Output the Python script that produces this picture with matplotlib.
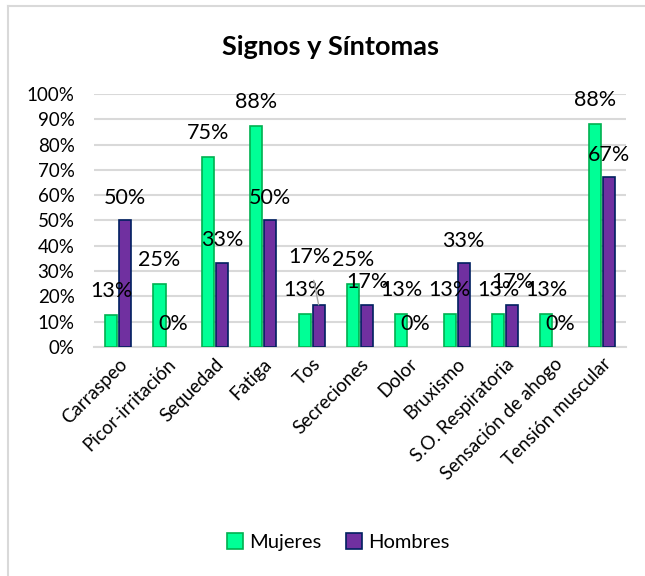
import numpy as np
import matplotlib.pyplot as plt
from matplotlib.lines import Line2D

categories = ["Carraspeo", "Picor-irritación", "Sequedad", "Fatiga", "Tos",
              "Secreciones", "Dolor", "Bruxismo", "S.O. Respiratoria",
              "Sensación de ahogo", "Tensión muscular"]
mujeres = [12.5, 25, 75, 87.5, 13, 25, 13, 13, 13, 13, 88]
hombres = [50, 0, 33.3, 50, 16.7, 16.7, 0, 33, 16.7, 0, 67]

plt.rcParams['font.family'] = ['Lato', 'DejaVu Sans']

fig = plt.figure(figsize=(6.45, 5.76), dpi=100)
ax = fig.add_axes([0.1457, 0.3976, 0.8248, 0.4392])

# chart border (only top/left visible in the reference)
fig.add_artist(Line2D([8 / 645, 8 / 645], [0, 1 - 6 / 576], transform=fig.transFigure,
                      color='#d9d9d9', lw=1.5))
fig.add_artist(Line2D([8 / 645, 1], [1 - 6 / 576, 1 - 6 / 576], transform=fig.transFigure,
                      color='#d9d9d9', lw=1.5))

x = np.arange(len(categories))
w = 0.25
off = 0.145
b1 = ax.bar(x - off, mujeres, w, color='#00ff96', edgecolor='#00b050',
            lw=1.2, label='Mujeres', zorder=3)
b2 = ax.bar(x + off, hombres, w, color='#7030a0', edgecolor='#002060',
            lw=1.2, label='Hombres', zorder=3)
for bar in list(b1) + list(b2):
    if bar.get_height() == 0:
        bar.set_linewidth(0)

ax.set_xlim(-0.5, len(categories) - 0.5)
ax.set_ylim(0, 100)
ax.set_yticks(np.arange(0, 101, 10))
ax.set_yticklabels([f"{v}%" for v in range(0, 101, 10)], fontsize=13.5)
ax.yaxis.grid(True, color='#d9d9d9', lw=1.5, zorder=0)
ax.set_axisbelow(True)
for s in ['top', 'right', 'left']:
    ax.spines[s].set_visible(False)
ax.spines['bottom'].set_color('#d9d9d9')
ax.spines['bottom'].set_linewidth(1.5)
ax.tick_params(length=0, pad=6)
ax.tick_params(axis='y', pad=14)
ax.set_xticks(x)
ax.set_xticklabels(categories, rotation=45, ha='right',
                   rotation_mode='anchor', fontsize=13.5)


def pct(v):
    return f"{int(v + 0.5)}%"


# data labels sit ~9 points of the axis above each bar
for i, v in enumerate(mujeres):
    ax.text(i - off, v + 9.5, pct(v), ha='center', va='center',
            fontsize=15.5, zorder=4)
for i, v in enumerate(hombres):
    if categories[i] == "Tos":
        ax.annotate(pct(v), xy=(i + off, v), xytext=(i + off - 0.2, v + 19),
                    ha='center', va='center', fontsize=15.5, zorder=4,
                    arrowprops=dict(arrowstyle='-', color='#a6a6a6', lw=1,
                                    shrinkA=8, shrinkB=0))
        continue
    ax.text(i + off, v + 9, pct(v), ha='center', va='center',
            fontsize=15.5, zorder=4)

fig.text(0.512, 1 - 47 / 576, "Signos y Síntomas", ha='center', va='center',
         fontsize=19.5, fontweight='bold')

fig.legend(handles=[b1, b2], loc='center', bbox_to_anchor=(0.524, 1 - 542 / 576),
           ncol=2, frameon=False, fontsize=14.5, handlelength=0.8,
           handleheight=0.8, handletextpad=0.3, columnspacing=1.2)

fig.savefig("out.png", dpi=100)
